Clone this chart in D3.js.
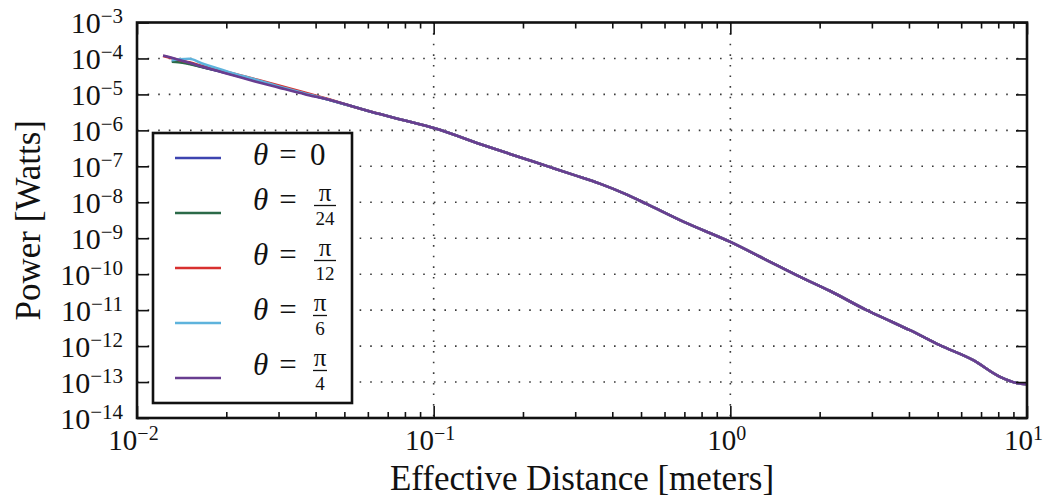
<!DOCTYPE html>
<html>
<head>
<meta charset="utf-8">
<script src="https://cdn.jsdelivr.net/npm/d3@7"></script>
<style>
  body { margin: 0; background: #fff; }
  svg { display: block; font-family: "Liberation Serif", "DejaVu Serif", serif; }
</style>
</head>
<body>
<div id="chart"></div>
<script>
// data
const distance = [0.01224, 0.0131, 0.0138, 0.015, 0.0165, 0.0185, 0.0206, 0.025, 0.0303, 0.037, 0.0447, 0.0523, 0.0659, 0.08, 0.1, 0.15, 0.2, 0.247, 0.3, 0.363, 0.45, 0.522, 0.7, 1.0, 1.3, 1.72, 2.17, 2.88, 3.5, 4.03, 5.08, 6.59, 8.11, 9.23, 10];

// common tail (from 0.0303 on) shared by every angle
const tail = [1.63e-5, 1.05e-5, 6.97e-6, 4.85e-6, 2.84e-6, 1.87e-6, 1.16e-6, 3.66e-7, 1.68e-7, 9.5e-8, 5.6e-8, 3.3e-8, 1.6e-8, 9.0e-9, 2.8e-9, 7.9e-10, 2.68e-10, 8.4e-11, 3.4e-11, 1.0e-11, 4.74e-12, 2.77e-12, 1.06e-12, 4.05e-13, 1.39e-13, 9.4e-14, 8.7e-14];

const power0    = [null, 8.6e-5, 8.3e-5, 7.2e-5, 5.9e-5, 4.6e-5, 3.7e-5, 2.45e-5].concat(tail);
const powerPi24 = [null, 8.1e-5, 7.9e-5, 7.0e-5, 5.8e-5, 4.7e-5, 3.8e-5, 2.5e-5].concat(tail);
const powerPi12 = [1.17e-4, 1.02e-4, 9.1e-5, 7.8e-5, 6.3e-5, 5.0e-5, 4.0e-5, 2.65e-5, 1.75e-5, 1.12e-5, 7.2e-6].concat(tail.slice(3));
const powerPi6  = [null, 9.0e-5, 9.4e-5, 9.8e-5, 7.4e-5, 5.4e-5, 4.1e-5, 2.6e-5].concat(tail);
const powerPi4  = [1.2e-4, 1.04e-4, 9.2e-5, 7.6e-5, 6.0e-5, 4.6e-5, 3.6e-5, 2.3e-5, 1.52e-5, 1.0e-5].concat(tail.slice(2));

const seriesNames = ["0", "π/24", "π/12", "π/6", "π/4"];
const seriesColors = ["#3d44b0", "#2b6a48", "#d8302f", "#5eb3dc", "#683d90"];
const seriesValues = [power0, powerPi24, powerPi12, powerPi6, powerPi4];

const xTickExp = [-2, -1, 0, 1];
const yTickExp = [-3, -4, -5, -6, -7, -8, -9, -10, -11, -12, -13, -14];

const width = 1044, height = 497;
const plotLeft = 137, plotRight = 1027, plotTop = 22.5, plotBottom = 418;

const svg = d3.select("#chart").append("svg")
  .attr("width", width)
  .attr("height", height);

const x = d3.scaleLog().domain([1e-2, 10]).range([plotLeft, plotRight]);
const y = d3.scaleLog().domain([1e-14, 1e-3]).range([plotBottom, plotTop]);

const xMajor = xTickExp.map(e => Math.pow(10, e));
const yMajor = yTickExp.map(e => Math.pow(10, e));
const xMinor = [];
for (let e = -2; e < 1; e++) for (let k = 2; k <= 9; k++) xMinor.push(k * Math.pow(10, e));

// dotted grid
const grid = svg.append("g")
  .attr("stroke", "#3a3a3a")
  .attr("stroke-width", 1.6)
  .attr("stroke-dasharray", "1.6,9");
grid.selectAll("line.v").data(xMajor.slice(1, -1)).enter().append("line")
  .attr("x1", d => x(d)).attr("x2", d => x(d))
  .attr("y1", plotTop).attr("y2", plotBottom);
grid.selectAll("line.h").data(yMajor.slice(1, -1)).enter().append("line")
  .attr("x1", plotLeft).attr("x2", plotRight)
  .attr("y1", d => y(d)).attr("y2", d => y(d));

// curves
const line = d3.line()
  .defined(d => d[1] != null)
  .x(d => x(d[0]))
  .y(d => y(d[1]))
  .curve(d3.curveMonotoneX);

seriesValues.forEach((vals, i) => {
  svg.append("path")
    .datum(distance.map((d, j) => [d, vals[j]]))
    .attr("fill", "none")
    .attr("stroke", seriesColors[i])
    .attr("stroke-width", 2.6)
    .attr("stroke-linejoin", "round")
    .attr("d", line);
});

// superscript labels "10^n"
function powerLabel(sel, expOf, expSize) {
  sel.each(function (d) {
    const t = d3.select(this);
    t.text(null);
    t.append("tspan").text("10");
    t.append("tspan").attr("dy", -10).attr("font-size", expSize)
      .text(String(expOf(d)).replace("-", "\u2212"));
  });
}

// axes
const gx = svg.append("g").attr("transform", `translate(0,${plotBottom})`)
  .call(d3.axisBottom(x).tickValues(xMajor).tickSizeInner(-12).tickSizeOuter(0).tickPadding(0));
gx.selectAll("text")
  .attr("y", 32).attr("dy", 0).attr("dx", -4)
  .attr("font-size", 29).attr("font-family", "Liberation Serif").attr("fill", "#111")
  .call(powerLabel, d => Math.round(Math.log10(d)), 20);

svg.append("g").attr("transform", `translate(0,${plotBottom})`)
  .call(d3.axisBottom(x).tickValues(xMinor).tickSize(-6).tickFormat(""));
svg.append("g").attr("transform", `translate(0,${plotTop})`)
  .call(d3.axisTop(x).tickValues(xMajor).tickSize(-12).tickFormat(""));
svg.append("g").attr("transform", `translate(0,${plotTop})`)
  .call(d3.axisTop(x).tickValues(xMinor).tickSize(-6).tickFormat(""));

const gy = svg.append("g").attr("transform", `translate(${plotLeft},0)`)
  .call(d3.axisLeft(y).tickValues(yMajor).tickSizeInner(-12).tickSizeOuter(0).tickPadding(14));
gy.selectAll("text")
  .attr("dy", 0).attr("y", 10)
  .attr("font-size", 30).attr("font-family", "Liberation Serif").attr("fill", "#111")
  .call(powerLabel, d => Math.round(Math.log10(d)), 21);

svg.append("g").attr("transform", `translate(${plotRight},0)`)
  .call(d3.axisRight(y).tickValues(yMajor).tickSize(-11).tickFormat(""));

svg.selectAll(".domain").remove();
svg.selectAll(".tick line").attr("stroke", "#111").attr("stroke-width", 1.6);

// frame
svg.append("rect")
  .attr("x", plotLeft).attr("y", plotTop)
  .attr("width", plotRight - plotLeft).attr("height", plotBottom - plotTop)
  .attr("fill", "none").attr("stroke", "#111").attr("stroke-width", 2.6);

// axis titles
svg.append("text")
  .attr("x", (plotLeft + plotRight) / 2).attr("y", 490)
  .attr("text-anchor", "middle").attr("font-size", 35).attr("fill", "#111")
  .text("Effective Distance [meters]");
svg.append("text")
  .attr("transform", `translate(40,${(plotTop + plotBottom) / 2}) rotate(-90)`)
  .attr("text-anchor", "middle").attr("font-size", 35).attr("fill", "#111")
  .text("Power [Watts]");

// legend
const legend = svg.append("g");
legend.append("rect")
  .attr("x", 153).attr("y", 133).attr("width", 199).attr("height", 270)
  .attr("fill", "#fff").attr("stroke", "#111").attr("stroke-width", 2.6);

const legendY = d3.scalePoint().domain(seriesNames).range([158, 378]);

seriesNames.forEach((name, i) => {
  const ly = legendY(name);
  const isFrac = name.includes("/");
  const base = isFrac ? ly - 3 : ly + 7;
  legend.append("line")
    .attr("x1", 175).attr("x2", 221).attr("y1", ly).attr("y2", ly)
    .attr("stroke", seriesColors[i]).attr("stroke-width", 2.6);
  legend.append("text")
    .attr("x", 253).attr("y", base)
    .attr("font-size", 31).attr("font-style", "italic").attr("fill", "#111")
    .text("θ");
  legend.append("text")
    .attr("x", 288).attr("y", base)
    .attr("text-anchor", "middle").attr("font-size", 31).attr("fill", "#111")
    .text("=");
  if (!isFrac) {
    legend.append("text")
      .attr("x", 310).attr("y", base)
      .attr("font-size", 31).attr("fill", "#111")
      .text(name);
  } else {
    const [num, den] = name.split("/");
    const cx = den.length > 1 ? 325 : 320;
    const bw = den.length > 1 ? 22 : 14;
    legend.append("text")
      .attr("x", cx).attr("y", ly - 12)
      .attr("text-anchor", "middle").attr("font-size", 25).attr("fill", "#111")
      .text(num);
    legend.append("line")
      .attr("x1", cx - bw / 2).attr("x2", cx + bw / 2)
      .attr("y1", ly - 7.5).attr("y2", ly - 7.5)
      .attr("stroke", "#111").attr("stroke-width", 1.3);
    legend.append("text")
      .attr("x", cx).attr("y", ly + 12)
      .attr("text-anchor", "middle").attr("font-size", 19).attr("fill", "#111")
      .text(den);
  }
});
</script>
</body>
</html>
